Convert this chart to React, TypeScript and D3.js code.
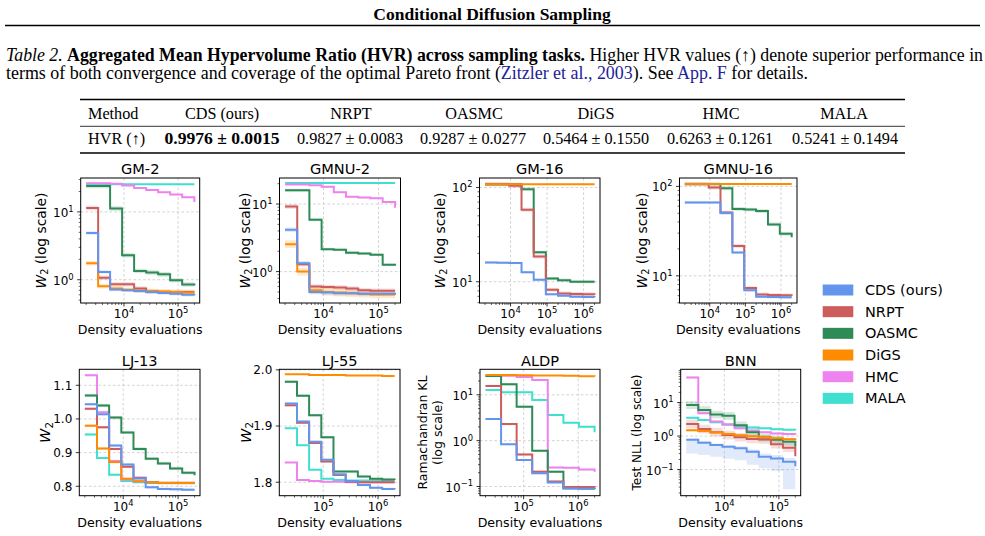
import React from "react";
import * as d3 from "d3";

// method order shared by every series list below
const methods = ["CDS (ours)", "NRPT", "OASMC", "DiGS", "HMC", "MALA"];
const methodColors = ["#6495ED", "#CD5C5C", "#2E8B57", "#FF8C00", "#EE82EE", "#40E0D0"];
// later entries are painted on top
const drawOrder = [5, 4, 2, 1, 3, 0];

const hvrMean = ["0.9976", "0.9827", "0.9287", "0.5464", "0.6263", "0.5241"];
const hvrStd = ["0.0015", "0.0083", "0.0277", "0.1550", "0.1261", "0.1494"];

// density-evaluation budgets (x of each step)
const evals2d = [2000, 3330, 5540, 9240, 15400, 25700, 42800, 71300, 119000, 200000];
const evals16d = [2000, 4310, 9280, 20000, 43100, 92800, 200000, 431000, 928000, 2000000];
const evalsLJ55 = [20000, 33300, 55400, 92400, 154000, 257000, 428000, 713000, 1190000, 2000000];
const evalsALDP = [20000, 38600, 74400, 143600, 277000, 536000, 1030000, 2000000];

// per task: CDS, NRPT, OASMC, DiGS, HMC, MALA (null = not shown)
const gm2 = [
  [4.9, 1.3, 0.72, 0.7, 0.68, 0.66, 0.64, 0.62, 0.6, 0.59],
  [11.4, 1.07, 0.86, 0.86, 0.74, 0.67, 0.66, 0.66, 0.66, 0.66],
  [24, 24, 11.2, 2.3, 1.35, 1.28, 1.2, 0.98, 0.85, 0.82],
  [1.75, 0.8, 0.74, 0.71, 0.69, 0.68, 0.67, 0.66, 0.65, 0.65],
  [26.5, 26.5, 26, 24.5, 22.5, 21, 19.5, 18, 16.5, 14],
  [25.5, 25.5, 25.5, 25.5, 25.5, 25.5, 25.5, 25.5, 25.5, 25.5],
];
const gm2Spread = [0.06, 0.08, 0.08, 0.08, 0.03, 0.02];

const gmnu2 = [
  [4.15, 1.33, 0.5, 0.49, 0.48, 0.48, 0.47, 0.47, 0.47, 0.46],
  [9.2, 1.28, 0.6, 0.59, 0.58, 0.56, 0.53, 0.52, 0.52, 0.52],
  [16, 16, 5.85, 2.15, 2.1, 1.9, 1.85, 1.78, 1.26, 1.22],
  [2.55, 1.0, 0.53, 0.5, 0.49, 0.48, 0.47, 0.46, 0.46, 0.45],
  [19.5, 19.5, 19, 18, 15, 12.8, 12.5, 12.2, 10.7, 8.8],
  [20.5, 20.5, 20.5, 20.5, 20.5, 20.5, 20.5, 20.5, 20.5, 20.5],
];
const gmnu2Spread = [0.08, 0.08, 0.05, 0.14, 0.03, 0.02];

const gm16 = [
  [16, 15.9, 15.8, 12.6, 10.5, 7.35, 7.1, 6.95, 6.9, 6.85],
  [108, 108, 104, 58, 18.5, 8.2, 7.5, 7.4, 7.35, 7.3],
  [108, 108, 108, 96, 20.5, 10.8, 10.4, 10, 10, 10],
  [108, 108, 108, 108, 108, 108, 108, 108, 108, 108],
  null,
  null,
];
const gm16Spread = [0.03, 0.05, 0.04, 0.02, 0, 0];

const gmnu16 = [
  [66, 66, 66, 50.5, 18.2, 6.9, 5.85, 5.8, 5.75, 5.75],
  [106, 106, 97, 51, 21.6, 7.3, 6.2, 6.1, 6.05, 6.0],
  [106, 106, 106, 95, 56, 55, 53, 37.5, 29.5, 27],
  [106, 106, 106, 106, 106, 106, 106, 106, 106, 106],
  null,
  null,
];
const gmnu16Spread = [0.04, 0.05, 0.05, 0.02, 0, 0];

const lj13 = [
  [1.044, 1.014, 0.921, 0.865, 0.823, 0.797, 0.792, 0.791, 0.79, 0.79],
  [1.03, 0.975, 0.911, 0.858, 0.825, 0.812, 0.81, 0.81, 0.81, 0.81],
  [1.07, 1.04, 1.004, 0.96, 0.911, 0.882, 0.868, 0.853, 0.84, 0.833],
  [0.98, 0.912, 0.872, 0.822, 0.815, 0.812, 0.81, 0.81, 0.81, 0.81],
  [1.13, 1.02, 0.875, 0.82, 0.815, 0.812, 0.81, 0.81, 0.81, 0.81],
  [0.954, 0.884, 0.834, 0.816, 0.812, 0.81, 0.81, 0.81, 0.81, 0.81],
];
const lj13Spread = [0.004, 0.004, 0.005, 0.004, 0.004, 0.004];

const lj55 = [
  [1.94, 1.908, 1.872, 1.84, 1.814, 1.802, 1.795, 1.79, 1.788, 1.787],
  [1.937, 1.906, 1.87, 1.837, 1.813, 1.801, 1.8, 1.8, 1.8, 1.8],
  [1.979, 1.954, 1.919, 1.88, 1.819, 1.819, 1.81, 1.806, 1.805, 1.804],
  [1.992, 1.992, 1.991, 1.991, 1.991, 1.99, 1.99, 1.99, 1.989, 1.989],
  [1.835, 1.804, 1.802, 1.801, 1.801, 1.8, 1.8, 1.8, 1.8, 1.8],
  [1.896, 1.866, 1.822, 1.806, 1.804, 1.803, 1.803, 1.803, 1.802, 1.802],
];
const lj55Spread = [0.002, 0.002, 0.002, 0.001, 0.001, 0.001];

const aldp = [
  [2.97, 0.83, 0.38, 0.195, 0.123, 0.091, 0.089, 0.088],
  [15.6, 2.3, 0.5, 0.21, 0.128, 0.098, 0.097, 0.096],
  [25.7, 16.9, 5.5, 0.6, 0.21, 0.092, 0.09, 0.088],
  [27, 27, 26.8, 26.5, 26.3, 26, 25.5, 25],
  [26, 26, 24.5, 21, 0.26, 0.255, 0.235, 0.21],
  [12.7, 11.4, 11.4, 7.7, 3.63, 2.47, 2.02, 1.52],
];
const aldpSpread = [0.05, 0.06, 0.06, 0.03, 0.05, 0.05];

const bnn = [
  [0.77, 0.63, 0.54, 0.48, 0.43, 0.34, 0.24, 0.215, 0.17, 0.125],
  [2.3, 1.62, 1.3, 1.07, 0.92, 0.82, 0.79, 0.57, 0.45, 0.25],
  [8.4, 6.0, 4.4, 4.0, 2.1, 1.3, 0.9, 0.78, 0.68, 0.48],
  [1.5, 1.42, 1.28, 1.15, 1.05, 0.98, 0.92, 0.86, 0.8, 0.75],
  [56, 4.75, 2.7, 2.2, 1.7, 1.45, 1.3, 1.2, 1.15, 1.1],
  [3.5, 3.0, 2.6, 2.2, 2.0, 1.8, 1.7, 1.6, 1.55, 1.5],
];
const bnnSpread = [0, 0.35, 0.3, 0.1, 0.08, 0.08];
const bnnCdsLow = [0.3, 0.27, 0.24, 0.21, 0.19, 0.14, 0.11, 0.09, 0.026, 0.025];
const bnnCdsHigh = [0.85, 0.72, 0.6, 0.55, 0.5, 0.4, 0.3, 0.27, 0.22, 0.16];

type Spec = {
  title: string;
  left: number;
  top: number;
  width: number;
  height: number;
  evals: number[];
  xDomain: [number, number];
  xTicks: number[];
  log: boolean;
  yDomain: [number, number];
  yTicks: number[];
  series: (number[] | null)[];
  spread: number[];
  band?: { index: number; lo: number[]; hi: number[] };
  ylabel: string;
  ylabelX: number;
  ylabelSize: number;
};

const ROW1 = 178;
const ROW2 = 369.3;

const panels: Spec[] = [
  { title: "GM-2", left: 80.7, top: ROW1, width: 119, height: 125, evals: evals2d, xDomain: [1585, 251000], xTicks: [1e4, 1e5], log: true, yDomain: [0.454, 31.6], yTicks: [1, 10], series: gm2, spread: gm2Spread, ylabel: "w2log", ylabelX: 40.7, ylabelSize: 13.8 },
  { title: "GMNU-2", left: 279.5, top: ROW1, width: 121, height: 125, evals: evals2d, xDomain: [1585, 251000], xTicks: [1e4, 1e5], log: true, yDomain: [0.343, 24.3], yTicks: [1, 10], series: gmnu2, spread: gmnu2Spread, ylabel: "w2log", ylabelX: 245, ylabelSize: 13.8 },
  { title: "GM-16", left: 479.5, top: ROW1, width: 120.5, height: 125, evals: evals16d, xDomain: [1413, 2818000], xTicks: [1e4, 1e5, 1e6], log: true, yDomain: [5.95, 126], yTicks: [10, 100], series: gm16, spread: gm16Spread, ylabel: "w2log", ylabelX: 440, ylabelSize: 13.8 },
  { title: "GMNU-16", left: 679.5, top: ROW1, width: 117.5, height: 125, evals: evals16d, xDomain: [1413, 2818000], xTicks: [1e4, 1e5, 1e6], log: true, yDomain: [4.97, 124], yTicks: [10, 100], series: gmnu16, spread: gmnu16Spread, ylabel: "w2log", ylabelX: 641.5, ylabelSize: 13.8 },
  { title: "LJ-13", left: 79.3, top: ROW2, width: 120.7, height: 126.4, evals: evals2d, xDomain: [1585, 251000], xTicks: [1e4, 1e5], log: false, yDomain: [0.772, 1.1475], yTicks: [0.8, 0.9, 1.0, 1.1], series: lj13, spread: lj13Spread, ylabel: "w2", ylabelX: 45, ylabelSize: 14.5 },
  { title: "LJ-55", left: 279.3, top: ROW2, width: 120.7, height: 126.4, evals: evalsLJ55, xDomain: [15850, 2512000], xTicks: [1e5, 1e6], log: false, yDomain: [1.776, 2.001], yTicks: [1.8, 1.9, 2.0], series: lj55, spread: lj55Spread, ylabel: "w2", ylabelX: 245.8, ylabelSize: 14.5 },
  { title: "ALDP", left: 480, top: ROW2, width: 120, height: 126.4, evals: evalsALDP, xDomain: [15850, 2512000], xTicks: [1e5, 1e6], log: true, yDomain: [0.063, 36], yTicks: [0.1, 1, 10], series: aldp, spread: aldpSpread, ylabel: "aldp", ylabelX: 422, ylabelSize: 12.5 },
  { title: "BNN", left: 680.7, top: ROW2, width: 120, height: 126.4, evals: evals2d, xDomain: [1585, 251000], xTicks: [1e4, 1e5], log: true, yDomain: [0.0166, 98], yTicks: [0.1, 1, 10], series: bnn, spread: bnnSpread, band: { index: 0, lo: bnnCdsLow, hi: bnnCdsHigh }, ylabel: "bnn", ylabelX: 636.7, ylabelSize: 12 },
];

const SANS = "DejaVu Sans, sans-serif";
const SERIF = "Liberation Serif, Times New Roman, serif";
const TICK = 12;

const isDecade = (v: number) => Math.abs(Math.log10(v) - Math.round(Math.log10(v))) < 1e-6;

function pow10Label(t: number, size: number) {
  const e = Math.round(Math.log10(t));
  return (
    <>
      10
      <tspan dy={-size * 0.42} fontSize={size * 0.7}>
        {e < 0 ? "\u2212" + -e : String(e)}
      </tspan>
    </>
  );
}

function YLabel({ s, cy }: { s: Spec; cy: number }) {
  const fs = s.ylabelSize;
  const common = {
    fontFamily: SANS,
    fontSize: fs,
    textAnchor: "middle" as const,
    dominantBaseline: "central" as const,
  };
  const rot = (x: number) => `rotate(-90 ${x} ${cy})`;
  if (s.ylabel === "aldp") {
    return (
      <g>
        <text x={s.ylabelX} y={cy} transform={rot(s.ylabelX)} {...common}>Ramachandran KL</text>
        <text x={s.ylabelX + 15} y={cy} transform={rot(s.ylabelX + 15)} {...common}>(log scale)</text>
      </g>
    );
  }
  if (s.ylabel === "bnn") {
    return <text x={s.ylabelX} y={cy} transform={rot(s.ylabelX)} {...common}>Test NLL (log scale)</text>;
  }
  return (
    <text x={s.ylabelX} y={cy} transform={rot(s.ylabelX)} {...common}>
      <tspan fontStyle="italic">W</tspan>
      <tspan fontSize={fs * 0.7} dy={fs * 0.25}>2</tspan>
      {s.ylabel === "w2log" ? <tspan dy={-fs * 0.25}> (log scale)</tspan> : null}
    </text>
  );
}

function Panel({ s, id }: { s: Spec; id: string }) {
  const right = s.left + s.width;
  const bottom = s.top + s.height;
  const x = d3.scaleLog().domain(s.xDomain).range([s.left, right]);
  const y: any = s.log
    ? d3.scaleLog().domain(s.yDomain).range([bottom, s.top])
    : d3.scaleLinear().domain(s.yDomain).range([bottom, s.top]);

  const xMinor = x.ticks().filter((t) => !isDecade(t));
  const yMinor: number[] = s.log ? y.ticks().filter((t: number) => !isDecade(t)) : [];

  const line = d3
    .line<number>()
    .x((_, i) => x(s.evals[i]))
    .y((v) => y(v))
    .curve(d3.curveStepAfter);
  const area = d3
    .area<[number, number]>()
    .x((_, i) => x(s.evals[i]))
    .y0((d) => y(d[0]))
    .y1((d) => y(d[1]))
    .curve(d3.curveStepAfter);

  const bandFor = (k: number, vals: number[]): [number, number][] => {
    if (s.band && s.band.index === k) return vals.map((_, i) => [s.band!.lo[i], s.band!.hi[i]]);
    const sp = s.spread[k];
    return vals.map((v) => (s.log ? [v / (1 + sp), v * (1 + sp)] : [v - sp, v + sp]));
  };

  const cy = (s.top + bottom) / 2;
  const fmt = d3.format(".1f");

  return (
    <g>
      <defs>
        <clipPath id={id}>
          <rect x={s.left} y={s.top} width={s.width} height={s.height} />
        </clipPath>
      </defs>

      {/* grid */}
      <g stroke="#c8c8c8" strokeWidth={0.8} strokeDasharray="2.6,2.2">
        {s.xTicks.map((t) => (
          <line key={"gx" + t} x1={x(t)} x2={x(t)} y1={s.top} y2={bottom} />
        ))}
        {s.yTicks.map((t) => (
          <line key={"gy" + t} x1={s.left} x2={right} y1={y(t)} y2={y(t)} />
        ))}
      </g>

      <g clipPath={`url(#${id})`}>
        {drawOrder.map((k) => {
          const vals = s.series[k];
          if (!vals) return null;
          return (
            <path key={"b" + k} d={area(bandFor(k, vals)) || ""} fill={methodColors[k]} fillOpacity={0.2} stroke="none" />
          );
        })}
        {drawOrder.map((k) => {
          const vals = s.series[k];
          if (!vals) return null;
          return (
            <path key={"l" + k} d={line(vals) || ""} fill="none" stroke={methodColors[k]} strokeWidth={2} strokeLinejoin="miter" />
          );
        })}
      </g>

      <rect x={s.left} y={s.top} width={s.width} height={s.height} fill="none" stroke="#000" strokeWidth={1} />

      {/* axis ticks */}
      <g stroke="#000">
        {s.xTicks.map((t) => (
          <line key={"tx" + t} x1={x(t)} x2={x(t)} y1={bottom} y2={bottom + 3.5} strokeWidth={0.8} />
        ))}
        {xMinor.map((t) => (
          <line key={"mx" + t} x1={x(t)} x2={x(t)} y1={bottom} y2={bottom + 2} strokeWidth={0.6} />
        ))}
        {s.yTicks.map((t) => (
          <line key={"ty" + t} x1={s.left - 3.5} x2={s.left} y1={y(t)} y2={y(t)} strokeWidth={0.8} />
        ))}
        {yMinor.map((t) => (
          <line key={"my" + t} x1={s.left - 2} x2={s.left} y1={y(t)} y2={y(t)} strokeWidth={0.6} />
        ))}
      </g>

      <g fontFamily={SANS} fontSize={TICK} fill="#000">
        {s.xTicks.map((t) => (
          <text key={"lx" + t} x={x(t)} y={bottom + 15} textAnchor="middle">
            {pow10Label(t, TICK)}
          </text>
        ))}
        {s.yTicks.map((t) => (
          <text key={"ly" + t} x={s.left - 7} y={y(t) + (s.log ? 5 : 4.3)} textAnchor="end">
            {s.log ? pow10Label(t, TICK) : fmt(t)}
          </text>
        ))}
      </g>

      <text x={(s.left + right) / 2} y={s.top - 3.8} textAnchor="middle" fontFamily={SANS} fontSize={14.6}>
        {s.title}
      </text>
      <text x={(s.left + right) / 2} y={bottom + 30.8} textAnchor="middle" fontFamily={SANS} fontSize={12.6}>
        Density evaluations
      </text>
      <YLabel s={s} cy={cy} />
    </g>
  );
}

function Legend() {
  const y0 = 290;
  const step = 21.67;
  return (
    <g fontFamily={SANS} fontSize={14.5}>
      {methods.map((m, i) => (
        <g key={m}>
          <rect x={822.7} y={y0 + i * step - 5.5} width={30.6} height={11} fill={methodColors[i]} />
          <text x={865} y={y0 + i * step + 5}>{m}</text>
        </g>
      ))}
    </g>
  );
}

function Table() {
  const colX = [222, 351, 474, 596, 721, 844];
  const valX = [222, 350, 473, 596, 720, 845];
  return (
    <g fontFamily={SERIF} fontSize={16.2} fill="#000">
      <line x1={80} x2={905} y1={99.5} y2={99.5} stroke="#000" strokeWidth={1.3} />
      <line x1={80} x2={905} y1={126.3} y2={126.3} stroke="#000" strokeWidth={0.8} />
      <line x1={80} x2={905} y1={153} y2={153} stroke="#000" strokeWidth={1.3} />
      <text x={88} y={118.5}>Method</text>
      {methods.map((m, i) => (
        <text key={m} x={colX[i]} y={118.5} textAnchor="middle">{m}</text>
      ))}
      <text x={88} y={143.5}>HVR (↑)</text>
      {hvrMean.map((m, i) => (
        <text
          key={"v" + i}
          x={valX[i]}
          y={143.5}
          textAnchor="middle"
          fontWeight={i === 0 ? "bold" : "normal"}
          textLength={i === 0 ? 115 : 106}
          lengthAdjust="spacingAndGlyphs"
        >
          {m} ± {hvrStd[i]}
        </text>
      ))}
    </g>
  );
}

export default function App() {
  return (
    <div style={{ position: "absolute", left: 0, top: 0 }}>
      <svg width={985} height={536} style={{ display: "block", background: "#fff" }}>
        <text x={492} y={19.5} textAnchor="middle" fontFamily={SERIF} fontWeight="bold" fontSize={17.5}>
          Conditional Diffusion Sampling
        </text>
        <line x1={5} x2={980} y1={25.5} y2={25.5} stroke="#000" strokeWidth={1.6} />

        <g fontFamily={SERIF} fontSize={17.8} fill="#000">
          <text x={6} y={60.5} textLength={977} lengthAdjust="spacingAndGlyphs">
            <tspan fontStyle="italic">Table 2.</tspan>{" "}
            <tspan fontWeight="bold">Aggregated Mean Hypervolume Ratio (HVR) across sampling tasks.</tspan> Higher HVR
            values (↑) denote superior performance in
          </text>
          <text x={6} y={79} textLength={802} lengthAdjust="spacingAndGlyphs">
            terms of both convergence and coverage of the optimal Pareto front (
            <tspan fill="#22229a">Zitzler et al., 2003</tspan>). See <tspan fill="#22229a">App. F</tspan> for details.
          </text>
        </g>

        <Table />

        {panels.map((p, i) => (
          <Panel key={p.title} s={p} id={"clip" + i} />
        ))}
        <Legend />
      </svg>
    </div>
  );
}
